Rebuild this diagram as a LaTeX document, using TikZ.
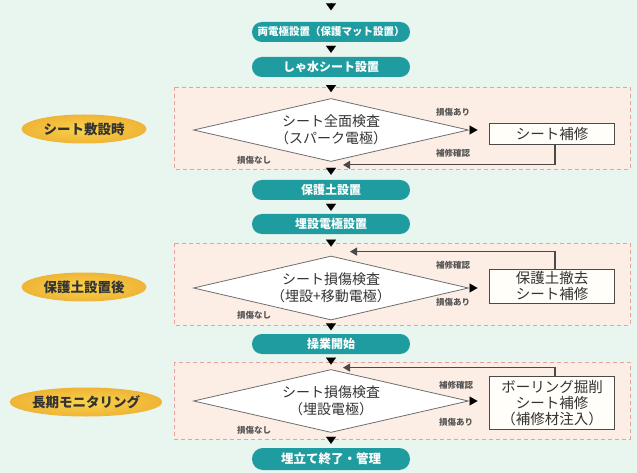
\documentclass[tikz,border=0pt]{standalone}
\usepackage{fontspec}
\setmainfont{Noto Sans CJK JP}
\usetikzlibrary{shapes.geometric,arrows.meta,calc}
\definecolor{bg}{HTML}{E8F6EF}
\definecolor{peach}{HTML}{FCEDE5}
\definecolor{pinkd}{HTML}{E6A29C}
\definecolor{teal1}{HTML}{1F9C9F}
\definecolor{gold}{HTML}{F5C342}
\definecolor{goldin}{HTML}{F9D24A}
\definecolor{goldout}{HTML}{EFB436}
\definecolor{txt}{HTML}{333333}
\definecolor{lgray}{HTML}{555555}
\definecolor{dgray}{HTML}{6E6E6E}
\definecolor{bgray}{HTML}{4A4A4A}
\definecolor{cream}{HTML}{FFFEF8}
\begin{document}
\begin{tikzpicture}[x=1pt,y=-1pt,
 proc/.style={rounded corners=9.8pt, fill=teal1, text=white, minimum width=158pt, minimum height=20pt, inner sep=0pt, font=\bfseries\fontsize{12}{14}\selectfont},
 dec/.style={diamond, shape aspect=4.35, draw=dgray, line width=0.8pt, fill=white, minimum width=275pt, minimum height=63pt, inner sep=0pt, align=center, text=txt, font=\fontsize{14}{17}\selectfont},
 fix/.style={draw=bgray, line width=1pt, fill=cream, minimum width=125pt, inner sep=2pt, align=center, text=txt, font=\fontsize{14.5}{16}\selectfont},
 phase/.style={ellipse, inner color=goldin, outer color=goldout, minimum width=125pt, minimum height=29pt, inner sep=0pt, text=txt, font=\bfseries\fontsize{13.5}{15}\selectfont},
 lbl/.style={font=\bfseries\fontsize{8.5}{10}\selectfont, text=lgray, inner sep=0pt},
 region/.style={fill=peach, draw=pinkd, dash pattern=on 4pt off 3pt, line width=0.8pt},
 tipv/.style={draw=black, line width=0.1pt, -{Triangle[length=7pt,width=10pt]}},
 tiph/.style={draw=black, line width=0.1pt, -{Triangle[length=8pt,width=9pt]}},
 ret/.style={draw=bgray, line width=1.1pt, -{Triangle[length=7pt,width=8pt]}},
]
\fill[bg] (0,0) rectangle (637,473);
\useasboundingbox (0,0) rectangle (637,473);

% regions
\draw[region] (174,87) rectangle (630,169);
\draw[region] (174,243) rectangle (630,325);
\draw[region] (174,362) rectangle (630,439);

% phase labels
\node[phase] (ph1) at (84,129) {シート敷設時};
\node[phase] (ph2) at (84,287) {保護土設置後};
\node[phase] (ph3) at (86,402) {長期モニタリング};

% main flow
\coordinate (top) at (331,4);
\node[proc, font=\bfseries\fontsize{10.5}{12}\selectfont] (p1) at (331,32) {両電極設置（保護マット設置）};
\node[proc] (p2) at (331,67) {しゃ水シート設置};
\node[dec] (d1) at (331,130) {シート全面検査\\（スパーク電極）};
\node[proc] (p3) at (331,190) {保護土設置};
\node[proc] (p4) at (331,224) {埋設電極設置};
\node[dec, shape aspect=4.3, minimum height=64pt] (d2) at (331,288) {シート損傷検査\\（埋設+移動電極）};
\node[proc] (p5) at (331,344) {操業開始};
\node[dec] (d3) at (331,401) {シート損傷検査\\（埋設電極）};
\node[proc, minimum height=22pt, rounded corners=10.8pt, font=\bfseries\fontsize{12.5}{14}\selectfont] (p6) at (331,459) {埋立て終了・管理};

% repair boxes
\node[fix, minimum height=21pt] (b1) at (552,134) {シート補修};
\node[fix, minimum height=34pt] (b2) at (552,286) {保護土撤去\\シート補修};
\node[fix, minimum height=53pt] (b3) at (552,403) {ボーリング掘削\\シート補修\\（補修材注入）};

% vertical triangles
\draw[tipv, shorten >=11.5pt] (top) -- (p1.north);
\draw[tipv, shorten <=4pt, shorten >=4pt] (p1.south) -- (p2.north);
\draw[tipv, shorten <=9pt, shorten >=6pt] (p2.south) -- (d1.north);
\draw[tipv, shorten <=6.5pt, shorten >=5pt] (d1.south) -- (p3.north);
\draw[tipv, shorten <=3.5pt, shorten >=3pt] (p3.south) -- (p4.north);
\draw[tipv, shorten <=5.5pt, shorten >=9pt] (p4.south) -- (d2.north);
\draw[tipv, shorten <=3pt, shorten >=3.5pt] (d2.south) -- (p5.north);
\draw[tipv, shorten <=3.5pt, shorten >=4.5pt] (p5.south) -- (d3.north);
\draw[tipv, shorten <=4.5pt, shorten >=4pt] (d3.south) -- (p6.north);

% horizontal triangles
\draw[tiph, shorten <=1.5pt, shorten >=11.5pt] (d1.east) -- (d1.east -| b1.west);
\draw[tiph, shorten <=1.5pt, shorten >=11.5pt] (d2.east) -- (d2.east -| b2.west);
\draw[tiph, shorten <=1.5pt, shorten >=11.5pt] (d3.east) -- (d3.east -| b3.west);

% return lines
\coordinate (r1) at ($(d1.south)+(12,3)$);
\coordinate (r2) at ($(d2.north)+(19,-4)$);
\coordinate (r3) at ($(d3.north)+(12,-1.5)$);
\draw[ret] ([xshift=3pt]b1.south) |- (r1);
\draw[ret] ([xshift=3pt]b2.north) |- (r2);
\draw[ret] ([xshift=3pt]b3.north) |- (r3);

% labels
\node[lbl] (l1a) at (453,112) {損傷あり};
\node[lbl] (l1b) at (453,153) {補修確認};
\node[lbl] (l1c) at (254,160) {損傷なし};
\node[lbl] (l2a) at (453,265) {補修確認};
\node[lbl] (l2b) at (453,302) {損傷あり};
\node[lbl] (l2c) at (254,315) {損傷なし};
\node[lbl] (l3a) at (456,385) {補修確認};
\node[lbl] (l3b) at (456,422) {損傷あり};
\node[lbl] (l3c) at (254,430) {損傷なし};
\end{tikzpicture}
\end{document}
